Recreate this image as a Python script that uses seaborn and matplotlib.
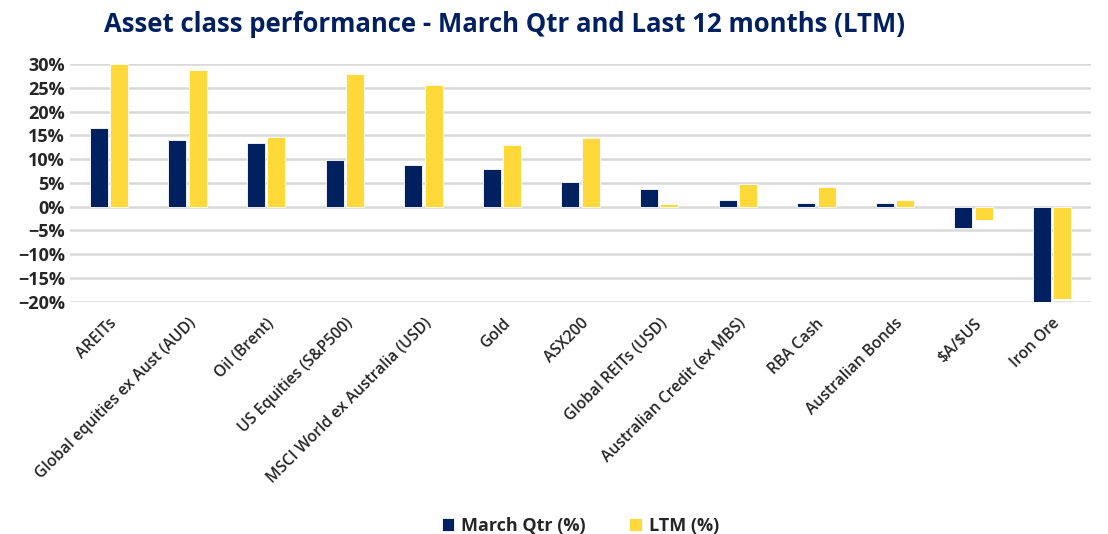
import numpy as np
import pandas as pd
import matplotlib
matplotlib.use("Agg")
import matplotlib.pyplot as plt
import seaborn as sns
from matplotlib.ticker import PercentFormatter

assets = ["AREITs", "Global equities ex Aust (AUD)", "Oil (Brent)", "US Equities (S&P500)",
          "MSCI World ex Australia (USD)", "Gold", "ASX200", "Global REITs (USD)",
          "Australian Credit (ex MBS)", "RBA Cash", "Australian Bonds", r"\$A/\$US", "Iron Ore"]
march_qtr = [16.5, 14.0, 13.3, 9.9, 8.8, 7.9, 5.1, 3.8, 1.3, 0.8, 0.8, -4.5, -20.5]
ltm = [30.0, 28.8, 14.7, 27.9, 25.5, 13.0, 14.5, 0.5, 4.7, 4.1, 1.4, -2.9, -19.5]
series = ["March Qtr (%)", "LTM (%)"]
colours = ["#002060", "#FFD83A"]

df = pd.DataFrame({"asset": assets * 2,
                   "series": [series[0]] * len(assets) + [series[1]] * len(assets),
                   "value": march_qtr + ltm})

sns.set_theme(style="white")
plt.rcParams["font.family"] = ["Open Sans", "DejaVu Sans"]

fig, ax = plt.subplots(figsize=(11.08, 5.34), dpi=100)
fig.subplots_adjust(left=0.063, right=0.985, top=0.88, bottom=0.435)

sns.barplot(data=df, x="asset", y="value", hue="series", palette=colours, saturation=1,
            width=0.52, gap=0.12, edgecolor="white", linewidth=0.6, ax=ax)

ax.set_ylim(-20, 30)
ax.set_yticks(np.arange(-20, 31, 5))
ax.yaxis.set_major_formatter(PercentFormatter(decimals=0))
ax.grid(axis="y", color="#d9d9d9", linewidth=1.8)
ax.set_axisbelow(True)
for s in ax.spines.values():
    s.set_visible(False)
ax.tick_params(axis="both", length=0)
ax.set_xlabel("")
ax.set_ylabel("")
for lab in ax.get_yticklabels():
    lab.set_fontsize(13)
    lab.set_fontweight("bold")
ax.set_xticks(range(len(assets)))
ax.set_xticklabels(assets, rotation=45, ha="right", rotation_mode="anchor",
                   fontsize=11.3, fontweight="semibold")
ax.tick_params(axis="x", pad=10)
ax.set_xlim(-0.5, len(assets) - 0.5)

ax.legend(loc="lower center", bbox_to_anchor=(0.50, -1.05), ncol=2, frameon=False,
          handlelength=0.7, handleheight=0.7, handletextpad=0.4, columnspacing=2.4,
          prop={"size": 13, "weight": "bold"})

fig.text(0.455, 0.955, "Asset class performance - March Qtr and Last 12 months (LTM)",
         ha="center", va="center", fontsize=18.5, fontweight="bold", color="#002060")

fig.savefig("out.png", dpi=100)
